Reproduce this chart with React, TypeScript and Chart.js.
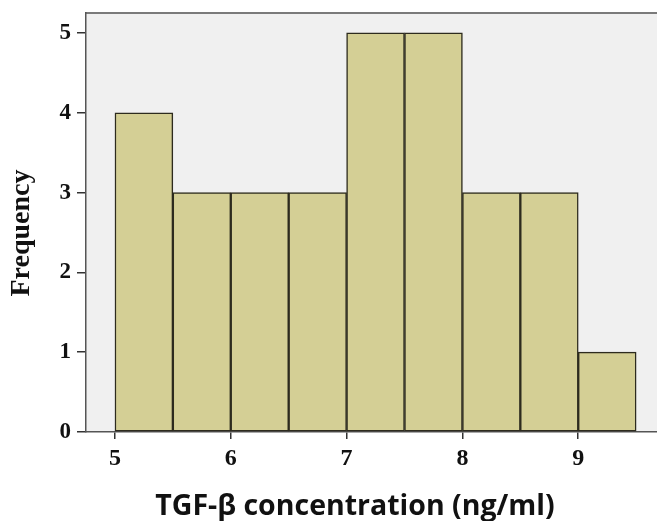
import React, { useEffect, useRef } from "react";
import { Chart, registerables } from "chart.js";

Chart.register(...registerables);

const binCenters = [5.25, 5.75, 6.25, 6.75, 7.25, 7.75, 8.25, 8.75, 9.25];
const counts = [4, 3, 3, 3, 5, 5, 3, 3, 1];
const xTicks = [5, 6, 7, 8, 9];
const yTicks = [0, 1, 2, 3, 4, 5];
const xTitle = "TGF-β concentration (ng/ml)";
const yTitle = "Frequency";

const bgPlugin = {
  id: "plotBg",
  beforeDraw(chart: any) {
    const { ctx, chartArea } = chart;
    ctx.save();
    ctx.fillStyle = "#f0f0f0";
    ctx.fillRect(chartArea.left, chartArea.top, chartArea.right - chartArea.left, chartArea.bottom - chartArea.top);
    ctx.strokeStyle = "#7a7a7a";
    ctx.lineWidth = 2;
    ctx.beginPath();
    ctx.moveTo(chartArea.left, chartArea.top);
    ctx.lineTo(chartArea.right, chartArea.top);
    ctx.stroke();
    ctx.restore();
  },
  afterDraw(chart: any) {
    const { ctx, chartArea } = chart;
    ctx.save();
    ctx.fillStyle = "#111";
    ctx.textAlign = "center";
    ctx.textBaseline = "alphabetic";
    ctx.font = "bold 28.5px 'Open Sans'";
    ctx.fillText(xTitle, chartArea.left + 269, 515);
    ctx.textBaseline = "middle";
    ctx.translate(22, 233);
    ctx.rotate(-Math.PI / 2);
    ctx.font = "bold 28px 'Liberation Serif'";
    ctx.fillText(yTitle, 0, 0);
    ctx.restore();
  },
};

export default function App() {
  const ref = useRef<HTMLCanvasElement>(null);
  useEffect(() => {
    const chart = new Chart(ref.current!, {
      type: "bar",
      data: {
        datasets: [
          {
            data: binCenters.map((x, i) => ({ x, y: counts[i] })),
            backgroundColor: "#d4cf95",
            borderColor: "#2d2b1e",
            borderWidth: 1.5,
            borderSkipped: false,
            barPercentage: 1,
            categoryPercentage: 1,
          },
        ],
      },
      options: {
        animation: false,
        responsive: false,
        maintainAspectRatio: false,
        layout: { padding: { top: 13, right: 0, left: 0, bottom: 0 } },
        plugins: { legend: { display: false }, tooltip: { enabled: false } },
        scales: {
          x: {
            type: "linear",
            offset: false,
            min: 4.75,
            max: 9.68,
            afterBuildTicks: (s: any) => {
              s.ticks = xTicks.map((v) => ({ value: v }));
            },
            afterFit: (s: any) => {
              s.height = 89;
              s.paddingLeft = 0;
              s.paddingRight = 0;
            },
            grid: { offset: false, drawOnChartArea: false, drawTicks: true, tickLength: 7, tickColor: "#333", lineWidth: 1.5 },
            border: { display: true, color: "#555", width: 1.5 },
            ticks: {
              color: "#111",
              padding: 5,
              font: { family: "'Liberation Serif'", weight: "bold", size: 24 },
            },
          },
          y: {
            type: "linear",
            min: 0,
            max: 5.25,
            afterBuildTicks: (s: any) => {
              s.ticks = yTicks.map((v) => ({ value: v }));
            },
            afterFit: (s: any) => {
              s.width = 86;
              s.paddingTop = 0;
              s.paddingBottom = 0;
            },
            grid: { drawOnChartArea: false, drawTicks: true, tickLength: 9, tickColor: "#333", lineWidth: 1.5 },
            border: { display: true, color: "#555", width: 1.5 },
            ticks: {
              color: "#111",
              padding: 6,
              font: { family: "'Liberation Serif'", weight: "bold", size: 23 },
            },
          },
        },
      },
      plugins: [bgPlugin],
    });
    return () => chart.destroy();
  }, []);
  return (
    <div style={{ position: "absolute", left: 0, top: 0, width: 657, height: 521, background: "#fff" }}>
      <canvas ref={ref} width={657} height={521} style={{ width: 657, height: 521 }} />
    </div>
  );
}
